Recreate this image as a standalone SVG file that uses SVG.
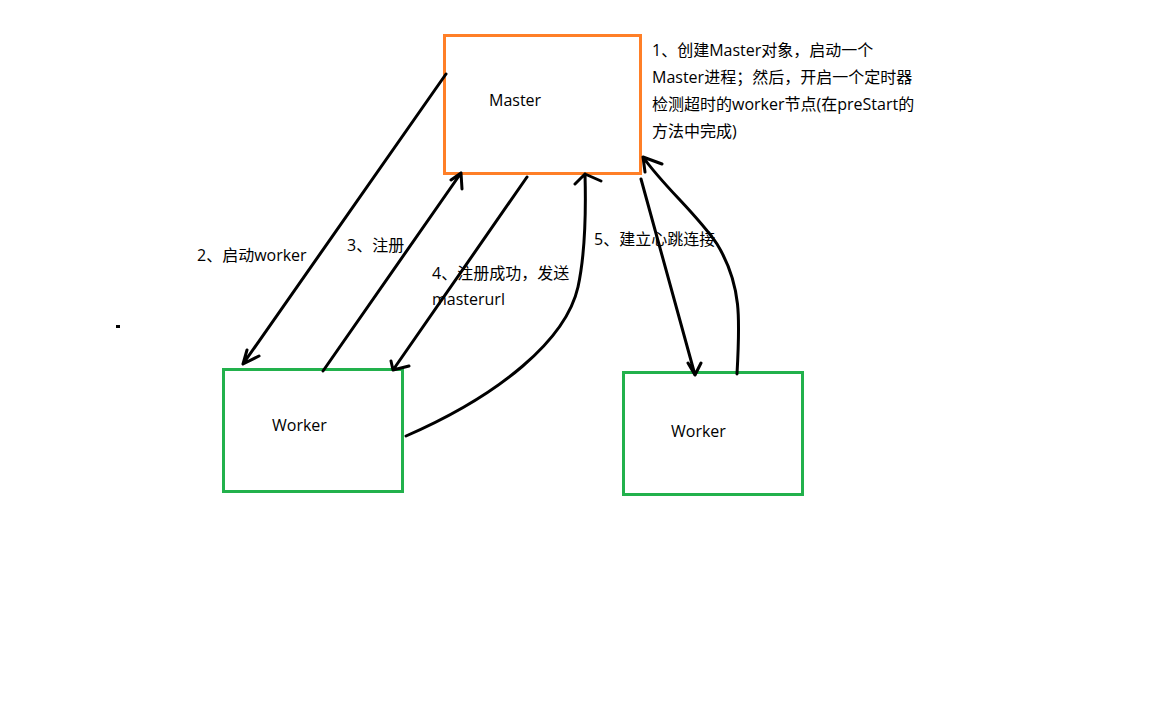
<svg xmlns="http://www.w3.org/2000/svg" width="1173" height="716" viewBox="0 0 1173 716">
<style>
text{font-family:"Open Sans","Noto Sans CJK SC",sans-serif;font-size:16px;fill:#000}
.m{fill:none;stroke:#FF7F27;stroke-width:3}
.w{fill:none;stroke:#22B14C;stroke-width:3}
.c{fill:none;stroke:#000;stroke-width:3;stroke-linecap:round;stroke-linejoin:round}
</style>
<rect width="1173" height="716" fill="#fff"/>
<g id="master">
<rect class="m" x="444.5" y="35.5" width="196" height="138"/>
<text x="489" y="106">Master</text>
</g>
<g id="note">
<text x="652" y="56">1、创建Master对象，启动一个</text>
<text x="652" y="83">Master进程；然后，开启一个定时器</text>
<text x="652" y="110">检测超时的worker节点(在preStart的</text>
<text x="652" y="137">方法中完成)</text>
</g>
<g id="worker1">
<rect class="w" x="223.5" y="369.5" width="179" height="122"/>
<text x="272" y="431">Worker</text>
</g>
<g id="worker2">
<rect class="w" x="623.5" y="372.5" width="179" height="122"/>
<text x="671" y="437">Worker</text>
</g>
<g id="connectors">
<path class="c" d="M446,74 L243,364 M243,364 L247,350 M243,364 L259,356"/>
<path class="c" d="M323,371 L461,173 M461,173 L451,180 M461,173 L462,189"/>
<path class="c" d="M527,177 L393,370 M393,370 L391,361 M393,370 L409,366"/>
<path class="c" d="M406,436 C500,395 566,340 578,287 C586,250 586,210 585,174 M585,174 L575,184 M585,174 L601,181"/>
<path class="c" d="M641,179 L695,375 M695,375 L688,363 M695,375 L701,363"/>
<path class="c" d="M737,374 C740,320 742,285 717,244 C695,212 665,188 643,157 M643,157 L662,164 M643,157 L645,172"/>
</g>
<g id="labels">
<text x="197" y="261">2、启动worker</text>
<text x="347" y="251">3、注册</text>
<text x="432" y="279">4、注册成功，发送</text>
<text x="432" y="305">masterurl</text>
<text x="594" y="245">5、建立心跳连接</text>
</g>
<rect x="116" y="325" width="4" height="3" fill="#000"/>
</svg>
